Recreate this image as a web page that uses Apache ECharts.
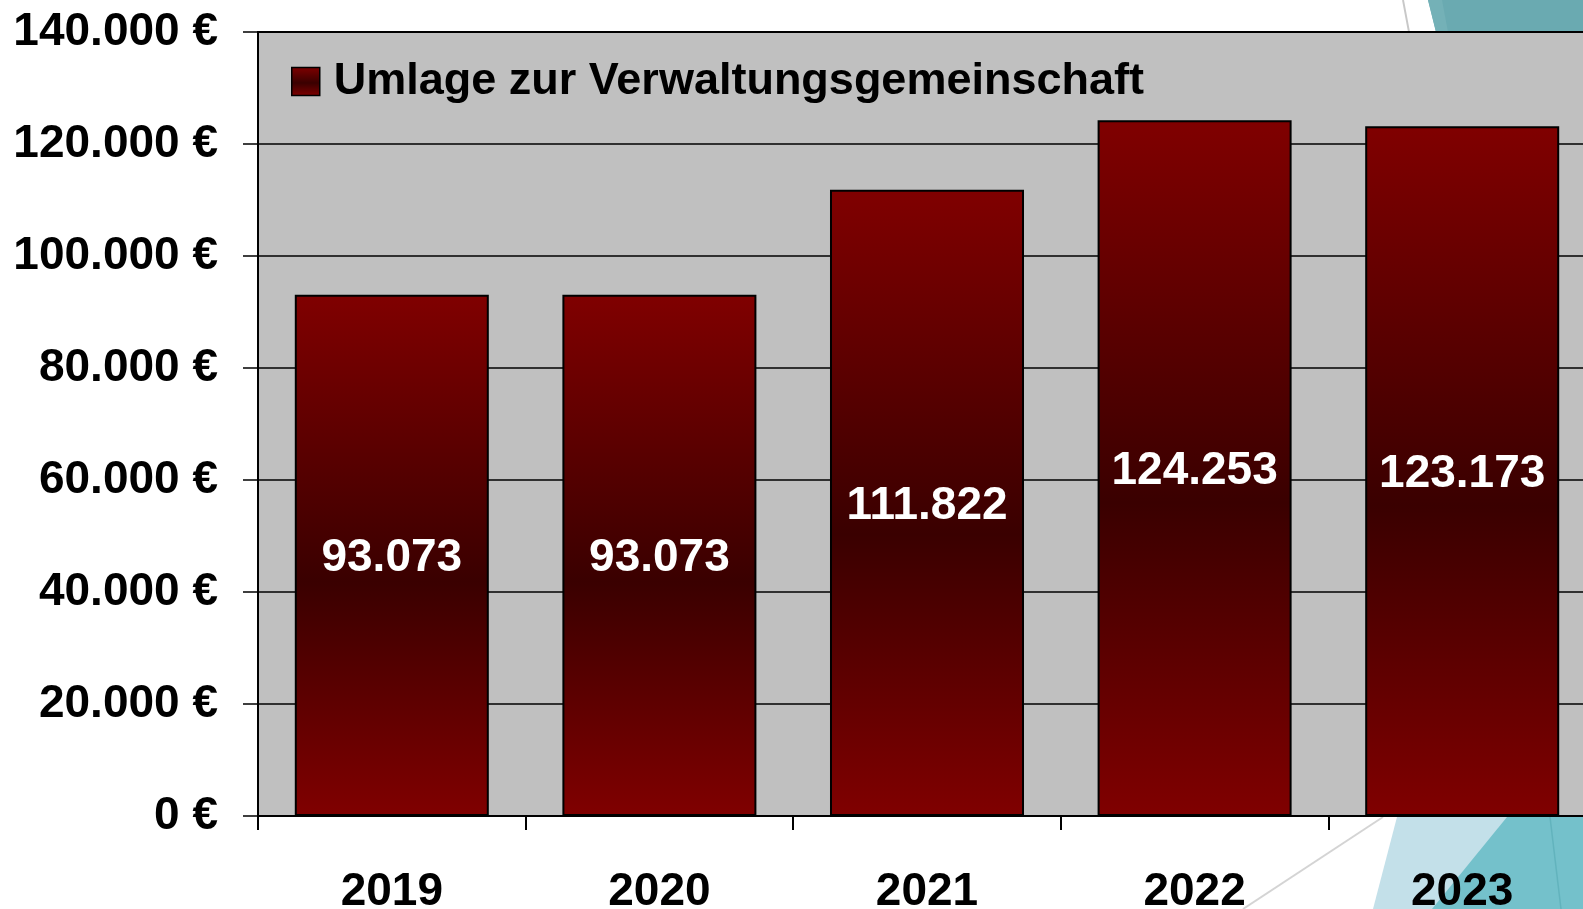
<!DOCTYPE html>
<html>
<head>
<meta charset="utf-8">
<script src="https://cdn.jsdelivr.net/npm/echarts@6/dist/echarts.min.js"></script>
<style>
  html, body { margin: 0; padding: 0; background: #fff; }
  #chart { width: 1583px; height: 909px; }
</style>
</head>
<body>
<div id="chart"></div>
<script>
// Daten
const years = ["2019", "2020", "2021", "2022", "2023"];
const umlage = [93073, 93073, 111822, 124253, 123173];
const seriesName = "Umlage zur Verwaltungsgemeinschaft";

// 1234567 -> "1.234.567"
function fmt(v) {
  return String(Math.round(v)).replace(/\B(?=(\d{3})+(?!\d))/g, ".");
}

const barFill = new echarts.graphic.LinearGradient(0, 0, 0, 1, [
  { offset: 0, color: "#800000" },
  { offset: 0.55, color: "#3a0000" },
  { offset: 1, color: "#800000" }
]);

const myChart = echarts.init(document.getElementById("chart"), null, { renderer: "canvas" });

// Hintergrund-Deko (Folienmotiv rechts oben / unten)
const deko = [
  { type: "polygon", z: -10, shape: { points: [[1428, 0], [1583, 0], [1583, 32], [1436, 32]] }, style: { fill: "#6aaab1" } },
  { type: "polygon", z: -9, shape: { points: [[1428, 0], [1442, 0], [1448, 32], [1436, 32]] }, style: { fill: "#74b1b7" } },
  { type: "line", z: -9, shape: { x1: 1403, y1: 0, x2: 1409, y2: 32 }, style: { stroke: "#c8c8c8", lineWidth: 2 } },
  { type: "polygon", z: -10, shape: { points: [[1397, 817], [1583, 817], [1583, 909], [1373, 909]] }, style: { fill: "#c3e0e9" } },
  { type: "polygon", z: -9, shape: { points: [[1507, 817], [1583, 817], [1583, 909], [1432, 909]] }, style: { fill: "#74c1cb" } },
  { type: "line", z: -8, shape: { x1: 1550, y1: 817, x2: 1561, y2: 909 }, style: { stroke: "#62b3bd", lineWidth: 1.5 } },
  { type: "line", z: -8, shape: { x1: 1383, y1: 817, x2: 1243, y2: 909 }, style: { stroke: "#d4d4d4", lineWidth: 2 } }
];

const option = {
  backgroundColor: "#ffffff",
  animation: false,
  textStyle: { fontFamily: "Liberation Sans, Arial, sans-serif" },
  graphic: deko,
  grid: {
    left: 258,
    top: 32,
    width: 1338,
    bottom: 93,
    outerBoundsMode: "none",
    show: true,
    backgroundColor: "#c0c0c0",
    borderColor: "#000",
    borderWidth: 2
  },
  legend: {
    data: [seriesName],
    left: 286,
    top: 54,
    itemWidth: 28,
    itemHeight: 28,
    itemGap: 0,
    icon: "rect",
    textStyle: {
      fontSize: 45,
      fontWeight: "bold",
      color: "#000",
      padding: [0, 0, 0, 9]
    },
    itemStyle: { borderColor: "#000", borderWidth: 1.5 }
  },
  xAxis: {
    type: "category",
    data: years,
    axisLine: { lineStyle: { color: "#000", width: 2 } },
    axisTick: { show: true, length: 14, lineStyle: { color: "#000", width: 2 } },
    axisLabel: {
      color: "#000",
      fontSize: 46,
      fontWeight: "bold",
      margin: 53
    }
  },
  yAxis: {
    type: "value",
    min: 0,
    max: 140000,
    interval: 20000,
    axisLine: { show: true, lineStyle: { color: "#000", width: 2 } },
    axisTick: { show: true, length: 15, lineStyle: { color: "#000", width: 1.5 } },
    splitLine: { lineStyle: { color: "#000", width: 1.5 } },
    axisLabel: {
      color: "#000",
      fontSize: 46,
      fontWeight: "bold",
      margin: 40,
      padding: [6, 0, 0, 0],
      formatter: function (v) { return fmt(v) + " €"; }
    }
  },
  series: [
    {
      name: seriesName,
      type: "bar",
      data: umlage,
      barWidth: "72.5%",
      itemStyle: {
        color: barFill,
        borderColor: "#000",
        borderWidth: 2
      },
      label: {
        show: true,
        position: "inside",
        offset: [0, 3],
        color: "#fff",
        fontSize: 46,
        fontWeight: "bold",
        formatter: function (p) { return fmt(p.value); }
      }
    }
  ]
};

myChart.setOption(option);
window.addEventListener("resize", function () {
  myChart.resize();
});
</script>
</body>
</html>
